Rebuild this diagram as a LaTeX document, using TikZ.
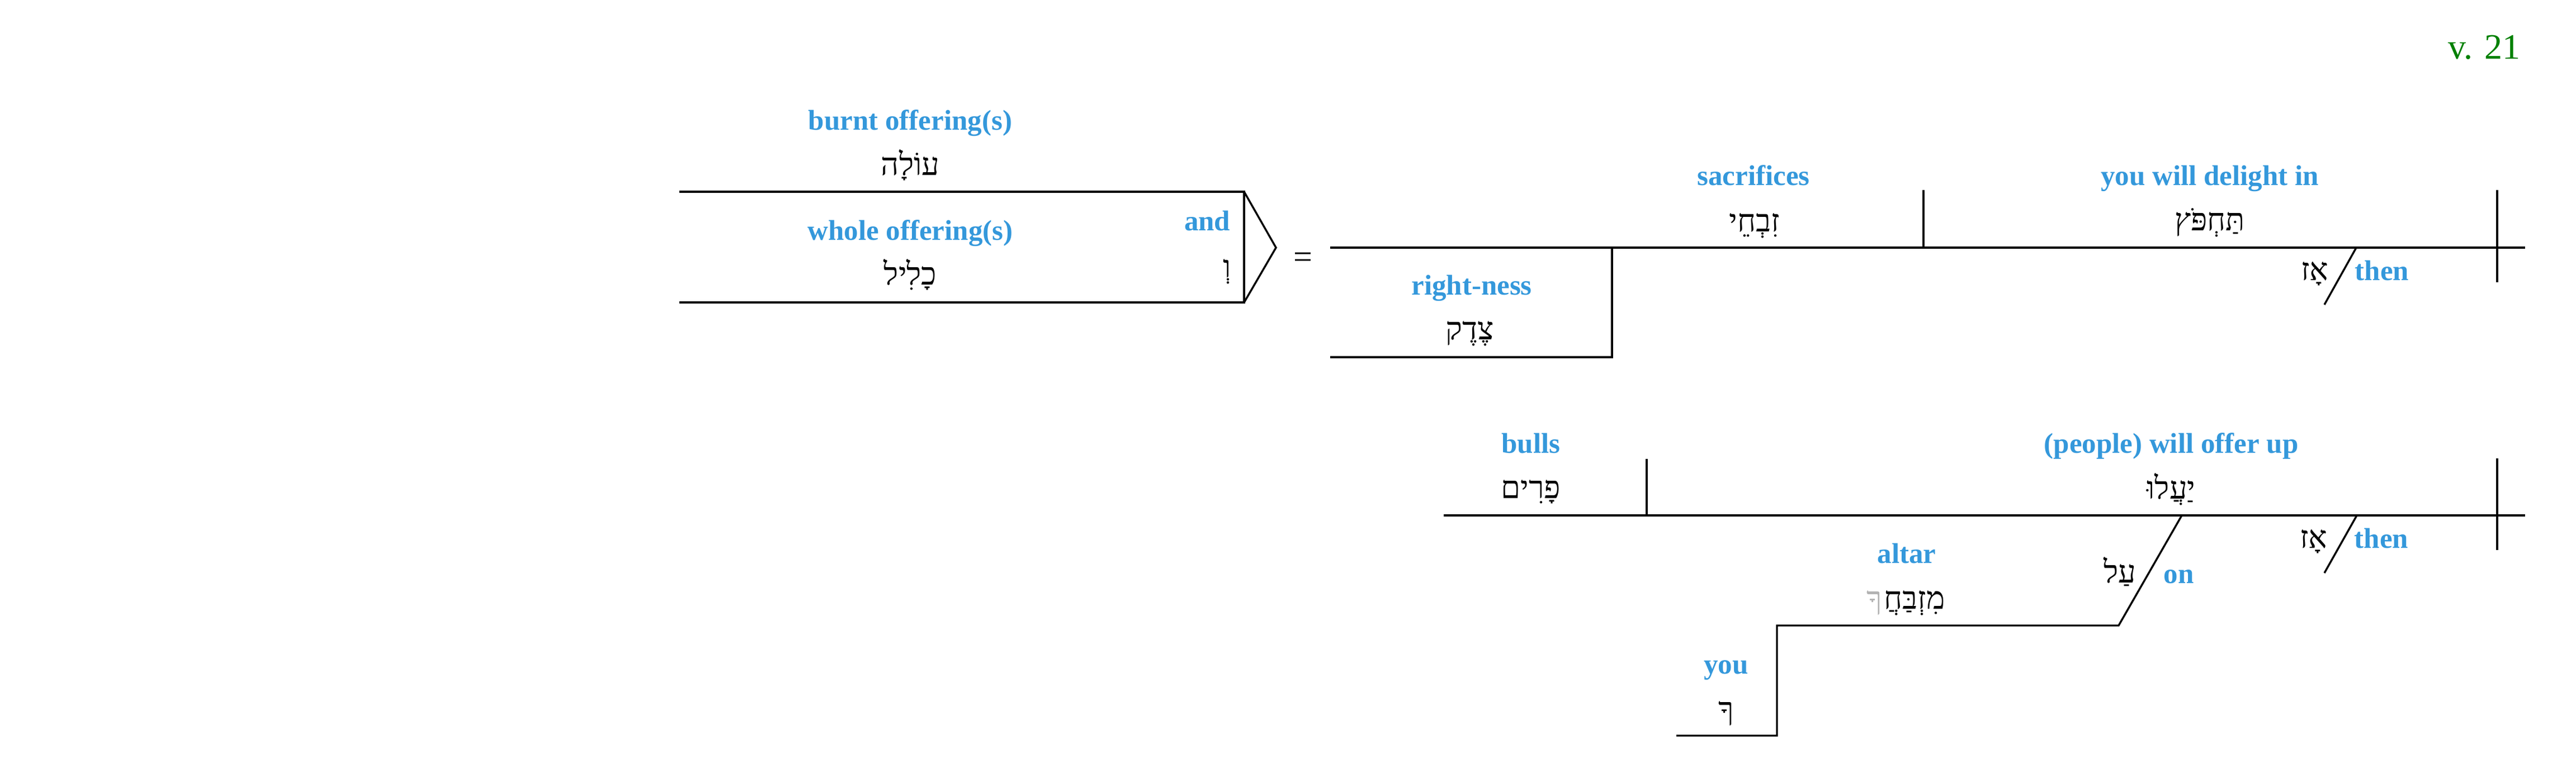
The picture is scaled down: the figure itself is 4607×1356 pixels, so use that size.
\documentclass[tikz,border=0pt]{standalone}
\usepackage{fontspec}
\usepackage{tikz}
\setmainfont{Liberation Serif}
\newfontfamily\hebfont[Script=Hebrew]{Liberation Serif}
\TeXXeTstate=1
\newcommand{\hebr}[1]{{\hebfont\beginR #1\endR}}
\definecolor{glossblue}{RGB}{52,152,219}
\definecolor{versegreen}{RGB}{0,128,0}

\begin{document}
\begin{tikzpicture}[x=0.25pt,y=-0.25pt,line width=0.85pt,
        gloss/.style={text=glossblue,font=\fontsize{12.75}{14}\selectfont\bfseries,anchor=base,inner sep=0pt},
        heb/.style={font=\fontsize{14}{16}\selectfont,anchor=base,inner sep=0pt}]
        \useasboundingbox (0,0) rectangle (4607,1356);
        \node[text=versegreen,font=\fontsize{16}{18}\selectfont,anchor=base,inner sep=0pt] (verse) at (4443,106) {v. 21};
        % subject: olah and kalil
        \draw (1215,343) -- (2225,343) -- (2225,541) -- (1215,541);
        \draw (2225,343) -- (2282,443) -- (2225,541);
        \node[gloss] (burnt) at (1628,233) {burnt offering(s)};
        \node[heb] (olah) at (1628,314) {\hebr{עוֹלָה}};
        \node[gloss] (whole) at (1628,430) {whole offering(s)};
        \node[heb] (kalil) at (1628,510) {\hebr{כָלִיל}};
        \node[gloss,anchor=base east] (and) at (2202,413) {and};
        \node[heb] (waw) at (2195,497) {\hebr{וְ}};
        \node[font=\fontsize{15}{16}\selectfont,inner sep=0pt] (equals) at (2330,466) {=};
        % first clause
        \draw (2379,443) -- (4516,443);
        \draw (3440,340) -- (3440,443);
        \draw (4466,340) -- (4466,505);
        \draw (2883,443) -- (2883,639) -- (2379,639);
        \draw (4214,443) -- (4157,545);
        \node[gloss] (sacrifices) at (3136,332) {sacrifices};
        \node[heb] (zivche) at (3138,415) {\hebr{זִבְחֵי}};
        \node[gloss] (delight) at (3952,332) {you will delight in};
        \node[heb] (tachpots) at (3952,413) {\hebr{תַּחְפֹּץ}};
        \node[gloss] (rightness) at (2632,528) {right-ness};
        \node[heb] (tsedeq) at (2629,608) {\hebr{צֶדֶק}};
        \node[heb,anchor=base east] (az) at (4166,502) {\hebr{אָז}};
        \node[gloss,anchor=base west] (then) at (4210,502) {then};
        % second clause
        \draw (2582,922) -- (4516,922);
        \draw (2945,821) -- (2945,922);
        \draw (4466,820) -- (4466,984);
        \draw (4215,922) -- (4157,1025);
        \draw (3902,922) -- (3789,1119) -- (3178,1119) -- (3178,1316) -- (2998,1316);
        \node[gloss] (bulls) at (2738,811) {bulls};
        \node[heb] (parim) at (2738,892) {\hebr{פָרִים}};
        \node[gloss] (offerup) at (3883,811) {(people) will offer up};
        \node[heb] (yaalu) at (3883,893) {\hebr{יַעֲלוּ}};
        \node[heb,anchor=base east] (azb) at (4164,981) {\hebr{אָז}};
        \node[gloss,anchor=base west] (thenb) at (4209,981) {then};
        \node[heb,anchor=base east] (al) at (3822,1043) {\hebr{עַל}};
        \node[gloss,anchor=base west] (on) at (3868,1044) {on};
        \node[gloss] (altar) at (3410,1008) {altar};
        \node[heb,anchor=base west] (mizbach) at (3368,1090) {\hebr{מִזְבַּחֲ}};
        \node[heb,anchor=base east,text=gray!60] (suffix) at (mizbach.base west) {\hebr{ךָ}};
        \node[gloss] (you) at (3087,1206) {you};
        \node[heb] (kha) at (3087,1287) {\hebr{ךָ}};
\end{tikzpicture}
\end{document}
